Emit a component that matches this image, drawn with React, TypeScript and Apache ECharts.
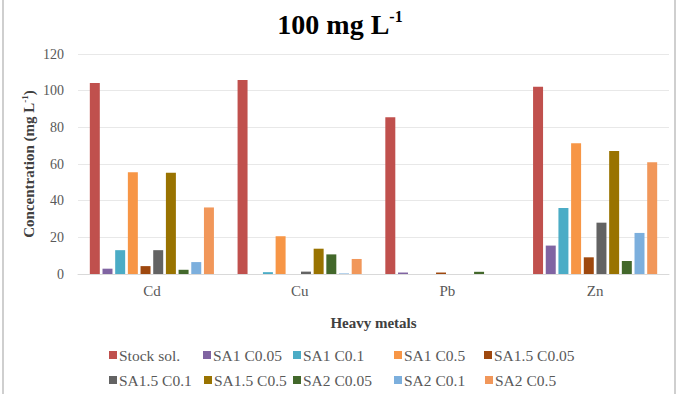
import React, { useEffect, useRef } from "react";
import * as echarts from "echarts";

const categories = ["Cd", "Cu", "Pb", "Zn"];
const seriesNames = [
  "Stock sol.",
  "SA1 C0.05",
  "SA1 C0.1",
  "SA1 C0.5",
  "SA1.5 C0.05",
  "SA1.5 C0.1",
  "SA1.5 C0.5",
  "SA2 C0.05",
  "SA2 C0.1",
  "SA2 C0.5",
];
const stockSol = [104.2, 105.8, 85.5, 102.2];
const sa1C005 = [2.9, 0, 0.8, 15.5];
const sa1C01 = [13, 1, 0, 36];
const sa1C05 = [55.5, 20.6, 0, 71.3];
const sa15C005 = [4.3, 0, 0.8, 9.1];
const sa15C01 = [13, 1.3, 0, 28];
const sa15C05 = [55.2, 13.8, 0, 67.1];
const sa2C005 = [2.3, 10.7, 1.2, 7.1];
const sa2C01 = [6.5, 0.3, 0, 22.4];
const sa2C05 = [36.3, 8.2, 0, 60.9];
const seriesValues = [stockSol, sa1C005, sa1C01, sa1C05, sa15C005, sa15C01, sa15C05, sa2C005, sa2C01, sa2C05];
const yTicks = [0, 20, 40, 60, 80, 100, 120];

const colors = [
  "#C0504D",
  "#8064A2",
  "#4BACC6",
  "#F79646",
  "#9E480E",
  "#636363",
  "#997300",
  "#43682B",
  "#7CAFDD",
  "#F1975A",
];

const legendPos = [
  [109, 347], [203, 347], [293, 347], [394, 347], [484, 347],
  [109, 372], [204, 372], [293, 372], [394, 372], [485, 372],
];

export default function App() {
  const ref = useRef<HTMLDivElement>(null);
  useEffect(() => {
    if (!ref.current) return;
    const chart = echarts.init(ref.current, undefined, { renderer: "svg" });
    const font = "Liberation Serif";
    chart.setOption({
      animation: false,
      color: colors,
      textStyle: { fontFamily: font },
      title: {
        text: "{a|100 mg L}{b|-1}",
        left: "center",
        top: 3,
        textStyle: {
          fontFamily: font,
          rich: {
            a: { fontFamily: font, fontSize: 28, fontWeight: "bold", color: "#000" },
            b: { fontFamily: font, fontSize: 16, fontWeight: "bold", color: "#000", padding: [0, 0, 16, 0] },
          },
        },
      },
      grid: { left: 78, right: 11, top: 54, bottom: 120 },
      legend: legendPos.map((p, i) => ({
        data: [seriesNames[i]],
        left: p[0],
        top: p[1],
        itemWidth: 8,
        itemHeight: 8,
        itemGap: 4,
        padding: 0,
        icon: "rect",
        textStyle: { fontFamily: font, fontSize: 15.5, color: "#595959", padding: [0, 0, 0, -3] },
      })),
      xAxis: {
        type: "category",
        data: categories,
        axisLine: { lineStyle: { color: "#D9D9D9" } },
        axisTick: { show: false },
        axisLabel: { fontFamily: font, fontSize: 15, color: "#595959", margin: 9 },
        name: "Heavy metals",
        nameLocation: "middle",
        nameGap: 41,
        nameMoveOverlap: false,
        nameTextStyle: { fontFamily: font, fontSize: 15, fontWeight: "bold", color: "#404040" },
      },
      yAxis: {
        type: "value",
        min: yTicks[0],
        max: yTicks[yTicks.length - 1],
        interval: 20,
        axisLine: { show: false },
        axisTick: { show: false },
        axisLabel: { fontFamily: font, fontSize: 14, color: "#595959", margin: 14 },
        splitLine: { lineStyle: { color: "#E8E8E8" } },
        name: "Concentration (mg L{s|-1})",
        nameLocation: "middle",
        nameGap: 40,
        nameMoveOverlap: false,
        nameRotate: 90,
        nameTextStyle: {
          fontFamily: font,
          fontSize: 15,
          fontWeight: "bold",
          color: "#404040",
          rich: {
            s: { fontFamily: font, fontSize: 9, fontWeight: "bold", color: "#404040", padding: [0, 0, 9, 0] },
          },
        },
      },
      graphic: [
        { type: "line", shape: { x1: 3, y1: 0, x2: 3, y2: 394 }, style: { stroke: "#BFBFBF", lineWidth: 1.5 } },
        { type: "line", shape: { x1: 675, y1: 0, x2: 675, y2: 394 }, style: { stroke: "#BFBFBF", lineWidth: 1.5 } },
      ],
      series: seriesNames.map((n, i) => ({
        name: n,
        type: "bar",
        data: seriesValues[i],
        barGap: "27%",
        barCategoryGap: "16%",
      })),
    });
    return () => chart.dispose();
  }, []);
  return (
    <div
      ref={ref}
      style={{ position: "fixed", left: 0, top: 0, width: 680, height: 394, background: "#fff" }}
    />
  );
}
